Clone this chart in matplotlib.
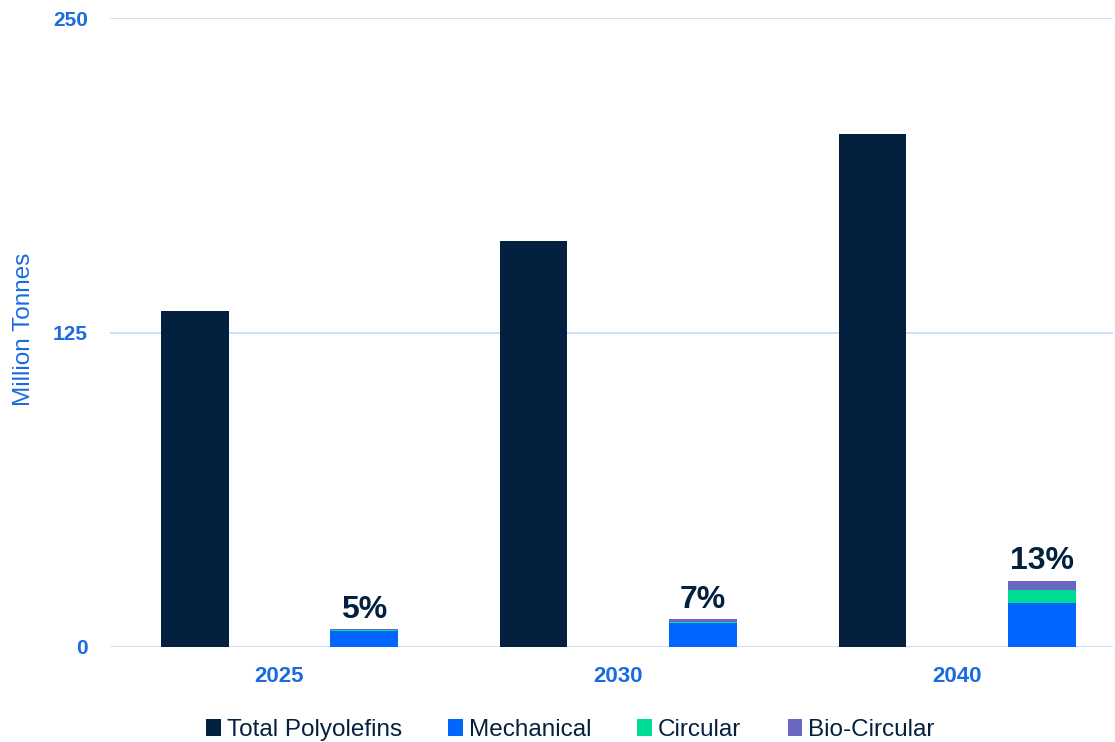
import numpy as np
import matplotlib.pyplot as plt

plt.rcParams['font.family'] = ['Liberation Sans', 'DejaVu Sans']

years = ['2025', '2030', '2040']
total = [133.5, 161.5, 204]
mechanical = [6.5, 9.7, 17.6]
circular = [0.2, 0.4, 5.2]
bio_circular = [0.3, 0.9, 3.6]
share_labels = ['5%', '7%', '13%']

navy = '#03203f'
blue_txt = '#1a6be0'
c_mech = '#0066ff'
c_circ = '#00dc96'
c_bio = '#6a67c2'
grid_c = '#c2daf7'

fig = plt.figure(figsize=(11.15, 7.42), dpi=100)
ax = fig.add_axes([110 / 1115, 1 - 647 / 742, 1003 / 1115, 629 / 742])

x = np.arange(len(years))
w = 0.2
off = 0.25

ax.bar(x - off, total, w, color=navy, label='Total Polyolefins', zorder=3)
mech = np.array(mechanical)
circ = np.array(circular)
bio = np.array(bio_circular)
ax.bar(x + off, mech, w, color=c_mech, label='Mechanical', zorder=3)
ax.bar(x + off, circ, w, bottom=mech, color=c_circ, label='Circular', zorder=3)
ax.bar(x + off, bio, w, bottom=mech + circ, color=c_bio, label='Bio-Circular', zorder=3)

for xi, top, lab in zip(x + off, mech + circ + bio, share_labels):
    ax.annotate(lab, (xi, top), xytext=(0, 3), textcoords='offset points',
                ha='center', va='bottom', fontsize=23, fontweight='bold', color=navy)

ax.set_ylim(0, 250)
ax.set_yticks([0, 125, 250])
ax.set_xlim(-0.5, 2.46)
ax.set_xticks(x)
ax.set_xticklabels(years)
ax.grid(axis='y', color=grid_c, linewidth=1.2, zorder=0)
for s in ax.spines.values():
    s.set_visible(False)
ax.tick_params(length=0)
ax.tick_params(axis='y', pad=16)
ax.tick_params(axis='x', pad=14)
for t in ax.get_yticklabels():
    t.set_fontsize(15)
    t.set_fontweight('bold')
    t.set_color(blue_txt)
for t in ax.get_xticklabels():
    t.set_fontsize(16)
    t.set_fontweight('bold')
    t.set_color(blue_txt)
ax.set_ylabel('Million Tonnes', fontsize=17.5, color=blue_txt)
ax.yaxis.set_label_coords(-0.075, 0.505)

leg = ax.legend(loc='upper center', bbox_to_anchor=(0.459, -0.08), ncol=4, frameon=False,
                fontsize=17.5, handlelength=0.6, handleheight=0.7, handletextpad=0.25,
                columnspacing=1.9, labelcolor=navy)

fig.savefig('out.png', dpi=100)
